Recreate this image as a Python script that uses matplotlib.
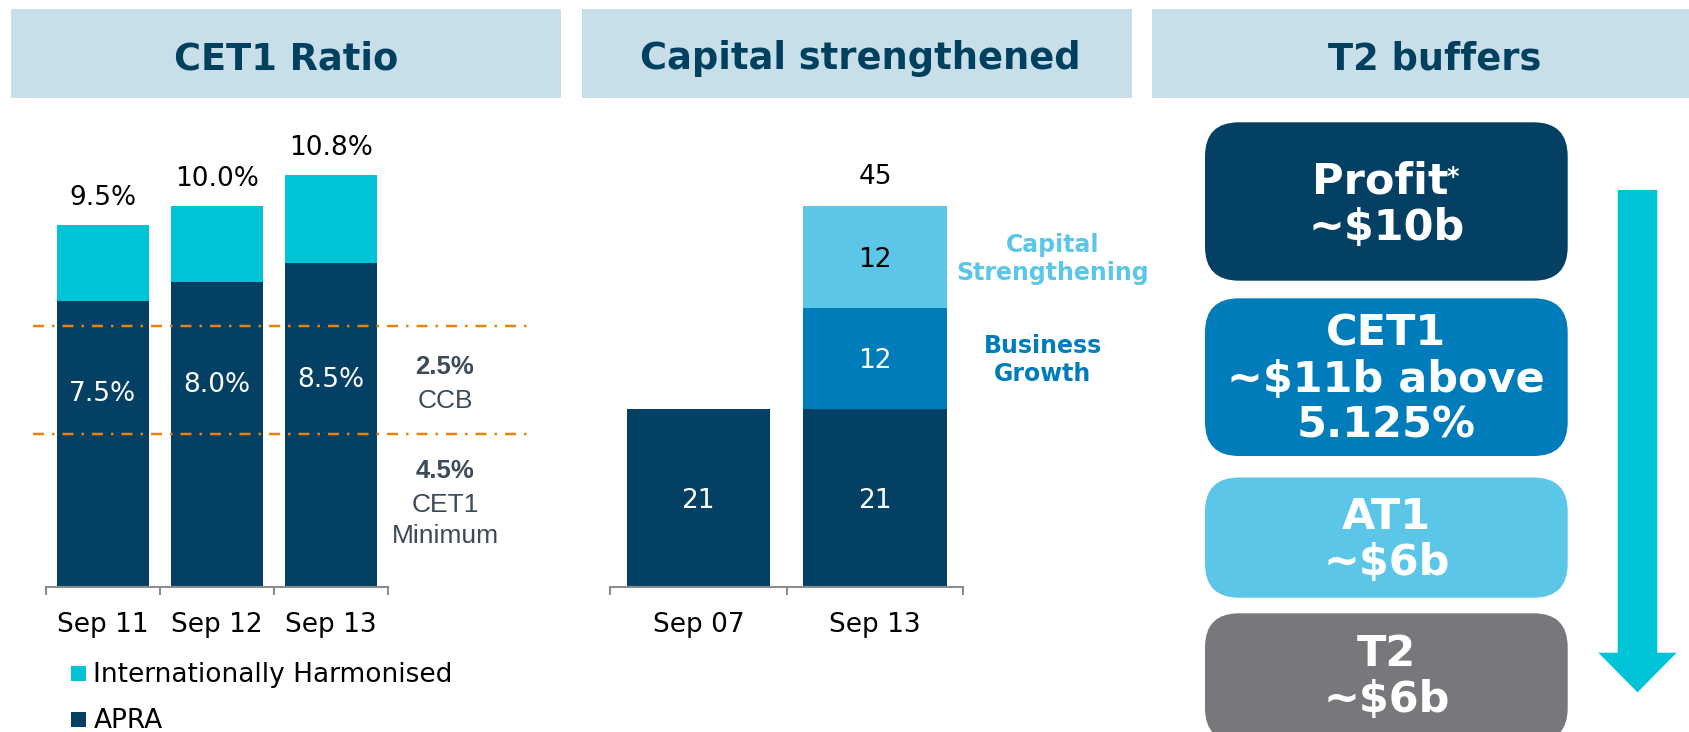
import matplotlib
matplotlib.use("Agg")
import matplotlib.pyplot as plt
from matplotlib.patches import Rectangle, FancyBboxPatch, FancyArrow
import numpy as np

# ---------------- data ----------------
cet1_periods = ["Sep 11", "Sep 12", "Sep 13"]
apra_ratio = [7.5, 8.0, 8.5]
intl_harmonised_ratio = [9.5, 10.0, 10.8]
cet1_series_names = ["Internationally Harmonised", "APRA"]
regulatory_lines = [6.85, 4.0]
regulatory_texts = [("2.5%", True), ("CCB", False), ("4.5%", True), ("CET1", False), ("Minimum", False)]

capital_periods = ["Sep 07", "Sep 13"]
capital_base = [21, 21]
business_growth = [0, 12]
capital_strengthening = [0, 12]
capital_segment_names = ["Business\nGrowth", "Capital\nStrengthening"]

panel_titles = ["CET1 Ratio", "Capital strengthened", "T2 buffers"]
buffer_lines = [["Profit", "~$10b"], ["CET1", "~$11b above", "5.125%"], ["AT1", "~$6b"], ["T2", "~$6b"]]

# ---------------- style ----------------
NAVY = "#034063"
CYAN = "#00C4D5"
BLUE = "#007CBA"
LIGHT = "#5CC6E8"
GREY = "#77787B"
ORANGE = "#E8820C"
HEADER = "#C8DFEA"
TITLE = "#00405F"
AXIS = "#8C8C8C"
SLATE = "#3C4A5A"

plt.rcParams["font.family"] = ["DejaVu Sans"]

W, H = 1690, 732
PT = 0.72  # points per pixel at 100 dpi
fig = plt.figure(figsize=(W / 100, H / 100), dpi=100)

ov = fig.add_axes([0, 0, 1, 1])
ov.set_xlim(0, W)
ov.set_ylim(H, 0)
ov.axis("off")


def add_px_axes(left, right, bottom, top):
    return fig.add_axes([left / W, 1 - bottom / H, (right - left) / W, (bottom - top) / H])


def style_axis(ax, labels):
    n = len(labels)
    ax.set_facecolor("none")
    for s in ["top", "right", "left"]:
        ax.spines[s].set_visible(False)
    ax.spines["bottom"].set_color(AXIS)
    ax.spines["bottom"].set_linewidth(1.5)
    ax.set_yticks([])
    ax.set_xticks(np.arange(n))
    ax.tick_params(axis="x", which="major", length=0, labelbottom=False)
    ax.set_xticks(np.arange(n + 1) - 0.5, minor=True)
    ax.tick_params(axis="x", which="minor", length=8 * PT, width=1.5, color=AXIS, direction="out")
    for i, lab in enumerate(labels):
        ax.annotate(lab, xy=(i, 0), xytext=(0, -45 * PT), textcoords="offset points",
                    ha="center", va="baseline", fontsize=19, color="black", annotation_clip=False)


def centered_label(ax, x, y, s, fs, color, weight="normal"):
    ax.annotate(s, xy=(x, y), xytext=(0, -0.365 * fs), textcoords="offset points",
                ha="center", va="baseline", fontsize=fs, color=color, fontweight=weight,
                annotation_clip=False)


# ---------------- headers ----------------
header_spans = [(10.8, 561.5), (582, 1132), (1152, 1700)]
title_x = [286, 860, 1435]
for (x0, x1), t, tx in zip(header_spans, panel_titles, title_x):
    ov.add_patch(Rectangle((x0, 8.6), x1 - x0, 89.4, color=HEADER, lw=0))
    ov.text(tx, 69, t, ha="center", va="baseline", fontsize=26.5, fontweight="bold", color=TITLE)

# ---------------- panel 1: CET1 ratio ----------------
ax1 = add_px_axes(45.7, 388.3, 586.7, 110)
ax1.set_xlim(-0.5, 2.5)
ax1.set_ylim(0, (586.7 - 110) / 38.08)
x1 = np.arange(len(cet1_periods))
apra = np.array(apra_ratio)
intl = np.array(intl_harmonised_ratio)
ax1.bar(x1, apra, 0.81, color=NAVY, lw=0, zorder=2)
ax1.bar(x1, intl - apra, 0.81, bottom=apra, color=CYAN, lw=0, zorder=2)
style_axis(ax1, cet1_periods)

for i, v in enumerate(intl):
    ax1.annotate(f"{v:.1f}%", xy=(i, v), xytext=(0, 20 * PT), textcoords="offset points",
                 ha="center", va="baseline", fontsize=19, color="black")
apra_label_y = [5.12, 5.37, 5.51]
for i, v in enumerate(apra):
    centered_label(ax1, i, apra_label_y[i], f"{v:.1f}%", 19, "white")

for yv in regulatory_lines:
    ax1.plot([-0.614, 3.72], [yv, yv], color=ORANGE, lw=2.5 * PT, ls=(0, (4.4, 3.2, 1.0, 3.2)),
             dash_capstyle="butt", clip_on=False, zorder=4)

reg_baselines = [374.5, 408.3, 478, 511.7, 543]
for (txt, bold), yb in zip(regulatory_texts, reg_baselines):
    ov.text(445, yb, txt, ha="center", va="baseline", family=["Liberation Sans", "DejaVu Sans"],
            fontsize=18.5 if bold else 19, fontweight="bold" if bold else "normal", color=SLATE)

for j, (name, col) in enumerate(zip(cet1_series_names, [CYAN, NAVY])):
    ov.add_patch(Rectangle((71, 666 + 46 * j), 15, 15, color=col, lw=0))
    ov.text(93.3, 682.3 + 46 * j, name, ha="left", va="baseline", fontsize=19, color="black")

# ---------------- panel 2: capital strengthened ----------------
ax2 = add_px_axes(610, 963.3, 586.7, 110)
ax2.set_xlim(-0.5, 1.5)
ax2.set_ylim(0, (586.7 - 110) / 8.45)
x2 = np.arange(len(capital_periods))
base = np.array(capital_base)
bg = np.array(business_growth)
cs = np.array(capital_strengthening)
ax2.bar(x2, base, 0.81, color=NAVY, lw=0)
ax2.bar(x2, bg, 0.81, bottom=base, color=BLUE, lw=0)
ax2.bar(x2, cs, 0.81, bottom=base + bg, color=LIGHT, lw=0)
style_axis(ax2, capital_periods)

for i in range(len(capital_periods)):
    segs = [(0, base[i], "white"), (base[i], bg[i], "white"), (base[i] + bg[i], cs[i], "black")]
    for b, h, c in segs:
        if h > 0:
            centered_label(ax2, i, b + h / 2, f"{h}", 19, c)
    if bg[i] + cs[i] > 0:
        tot = base[i] + bg[i] + cs[i]
        ax2.annotate(f"{tot}", xy=(i, tot), xytext=(0, 22.7 * PT), textcoords="offset points",
                     ha="center", va="baseline", fontsize=19, color="black")

last = len(capital_periods) - 1
side_x = [1.951, 2.008]
side_colors = [BLUE, LIGHT]
side_centers = [base[last] + bg[last] / 2, base[last] + bg[last] + cs[last] / 2]
for name, sx, col, cy in zip(capital_segment_names, side_x, side_colors, side_centers):
    l1, l2 = name.split("\n")
    for txt, off in [(l1, 5.5), (l2, -22.5)]:
        ax2.annotate(txt, xy=(sx, cy), xytext=(0, off * PT), textcoords="offset points",
                     ha="center", va="baseline", fontsize=17, fontweight="bold", color=col,
                     annotation_clip=False)

# ---------------- panel 3: T2 buffers ----------------
box_left, box_right = 1205, 1567.7
box_tops = [122.3, 298.3, 477.5, 613.3]
box_bottoms = [280.7, 456, 597.7, 742]
box_colors = [NAVY, BLUE, LIGHT, GREY]
line_baselines = [[193.3, 240], [345, 392, 437], [529, 575], [666, 711.7]]
for top, bot, col, lines, bases in zip(box_tops, box_bottoms, box_colors, buffer_lines, line_baselines):
    ov.add_patch(FancyBboxPatch((box_left, top), box_right - box_left, bot - top,
                                boxstyle="round,pad=0,rounding_size=34", fc=col, lw=0))
    for k, (txt, yb) in enumerate(zip(lines, bases)):
        cx = (box_left + box_right) / 2
        if txt == "Profit":
            cx = 1380.5
        ov.text(cx, yb, txt, ha="center", va="baseline", fontsize=31, fontweight="bold", color="white")
ov.text(1446, 165, "*", ha="left", va="top", fontsize=17, fontweight="bold", color="white")

ov.add_patch(FancyArrow(1637.5, 190, 0, 502.3, width=39.6, head_width=78.4, head_length=39.6,
                        length_includes_head=True, color=CYAN, lw=0))

fig.savefig("out.png", dpi=100)
